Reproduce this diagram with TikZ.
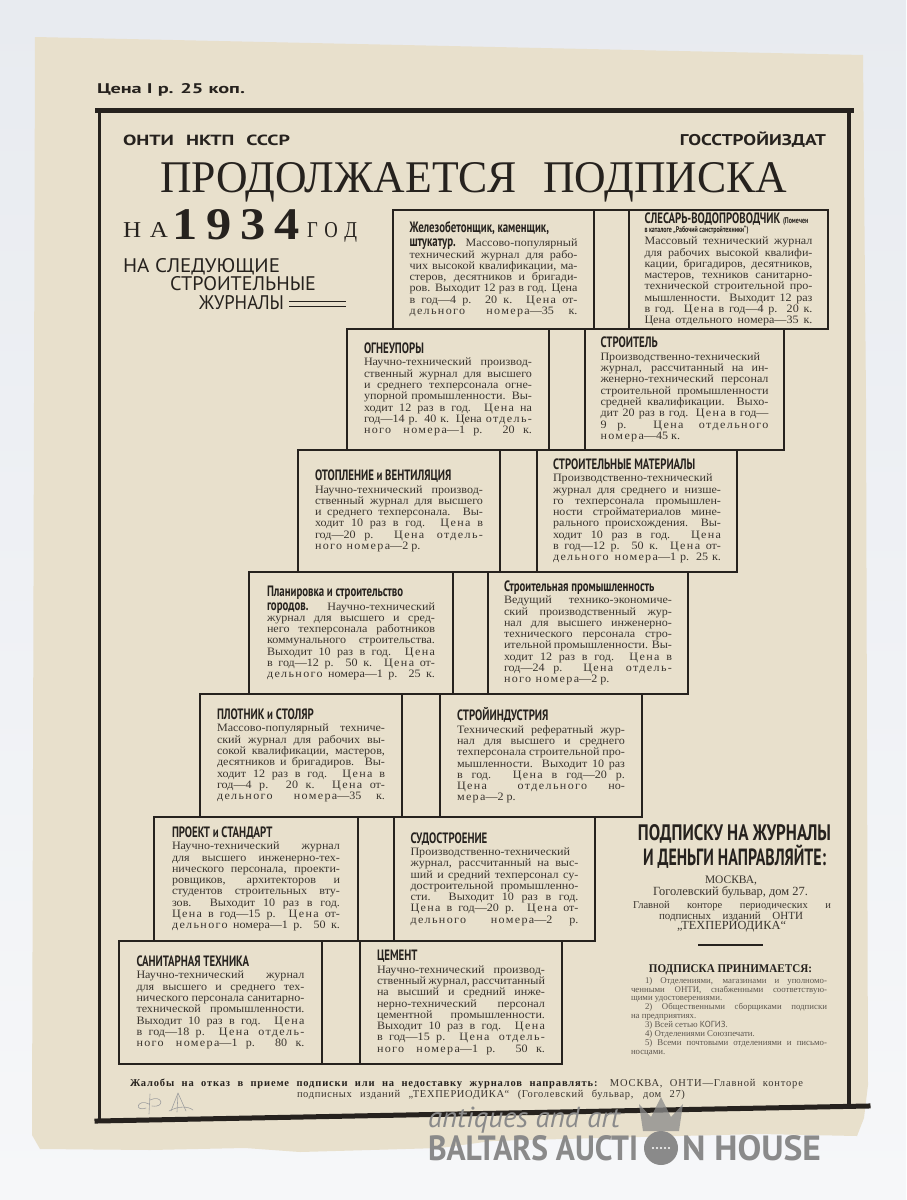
\documentclass[tikz,border=0pt]{standalone}
\usepackage{fontspec}
\usepackage{graphicx}
\setmainfont{Liberation Serif}
\newfontfamily\bodyserif[FakeStretch=1.07]{Liberation Serif}
\newfontfamily\condsans[FakeStretch=0.72]{PT Sans}
\newfontfamily\grot{PT Sans}
\usetikzlibrary{positioning}

\definecolor{bgtop}{HTML}{E8EBF0}
\definecolor{bgbot}{HTML}{F6F7F9}
\definecolor{paper}{HTML}{E8E0CC}
\definecolor{ink}{HTML}{26221E}
\definecolor{inkb}{HTML}{3A352F}
\definecolor{inkl}{HTML}{5C564E}
\definecolor{wmark}{HTML}{8A8A8A}

\newcommand\ttlfont{\condsans\bfseries\fontsize{15}{15.5}\selectfont\color{ink}}
\newcommand\smallttl{\condsans\bfseries\fontsize{8.3}{8.5}\selectfont}
\newcommand\sperr[1]{{\addfontfeature{LetterSpace=12}#1}}
\newcommand\jttl[1]{{\leavevmode\ttlfont\rightskip=0pt plus 1fil\parfillskip=0pt plus 1fil #1\par}\kern1pt}
\newcommand\jbody[1]{{\spaceskip=0pt\xspaceskip=0pt\leftskip=0pt\rightskip=0pt\parfillskip=0pt plus 1fil\hbadness=10000\hfuzz=8pt #1}}
\newcommand\jl[1]{\leavevmode\makebox[\linewidth][s]{#1}\par}
\newcommand\rl[1]{\leavevmode\makebox[\linewidth][l]{#1}\par}
\newcommand\rtxt[1]{{\tolerance=10000\hbadness=10000\leftskip=0pt\rightskip=0pt\spaceskip=0pt\xspaceskip=0pt\parfillskip=0pt plus 1fil #1\par}}

\begin{document}
\begin{tikzpicture}[x=1pt, y=-1pt,
  jbox/.style={draw=ink, line width=2.6pt, rectangle, inner sep=0pt, outer sep=0pt,
    text width=168pt, align=justify, font=\bodyserif\fontsize{11.3}{11.3}\selectfont, text=inkb},
  rowline/.style={draw=ink, line width=2.6pt},
  frame/.style={draw=ink, line cap=rect},
  disp/.style={inner sep=0pt, outer sep=0pt, text=ink},
  listtxt/.style={inner sep=0pt, outer sep=0pt, text width=196pt, align=justify,
    font=\fontsize{8.8}{8.9}\selectfont, text=inkl},
  pencil/.style={draw=gray!75, line width=0.6pt, line cap=round, line join=round}]
\useasboundingbox (0,0) rectangle (906,1200);
\shade[top color=bgtop, bottom color=bgbot] (0,0) rectangle (906,1200);

% paper sheet
\fill[paper] (35,37) -- (863,55) -- (866,400) -- (868,1085) -- (864,1118) -- (857,1136)
  -- (760,1134) -- (600,1138) -- (492,1141) -- (440,1148) -- (300,1152) -- (245,1148)
  -- (150,1150) -- (40,1149) -- (32,1135) -- cycle;

% outer frame
\draw[frame, line width=5pt] (97,110) -- (851,110);
\draw[frame, line width=3pt] (99,110) -- (99,1120);
\draw[frame, line width=4pt] (849,110) -- (849,1105);
\draw[frame, line width=5pt] (97,1121) -- (868,1106);

% heading
\node[disp, anchor=base west] (price) at (97,93) {\resizebox{148pt}{10pt}{\condsans\bfseries Цена I р. 25 коп.}};
\node[disp, anchor=base west] (onti) at (123,145) {\resizebox{167pt}{10.5pt}{\grot\bfseries ОНТИ\hspace{0.6em}НКТП\hspace{0.6em}СССР}};
\node[disp, anchor=base east] (gos) at (826,145) {\resizebox{146pt}{13.6pt}{\grot\bfseries ГОССТРОЙИЗДАТ}};
\node[disp, anchor=base west] (ptitle) at (160,192) {\resizebox{627pt}{30pt}{ПРОДОЛЖАЕТСЯ\hspace{0.6em}ПОДПИСКА}};
\node[disp, anchor=base west] (na) at (123,237) {\resizebox{45pt}{15pt}{Н\hspace{0.35em}А}};
\node[disp, anchor=base west] (year) at (172,239) {\resizebox{128pt}{30pt}{\bfseries 1\hspace{0.18em}9\hspace{0.18em}3\hspace{0.18em}4}};
\node[disp, anchor=base west] (god) at (307,237) {\resizebox{50pt}{15pt}{Г\hspace{0.35em}О\hspace{0.35em}Д}};
\node[disp, anchor=base west] (sled) at (123,272) {\resizebox{157pt}{14pt}{\condsans НА СЛЕДУЮЩИЕ}};
\node[disp, anchor=base west] (stroit) at (170,290) {\resizebox{146pt}{14pt}{\condsans СТРОИТЕЛЬНЫЕ}};
\node[disp, anchor=base west] (zhur) at (199,309) {\resizebox{85pt}{14pt}{\condsans ЖУРНАЛЫ}};
\draw[ink, line width=1.6pt] ([xshift=5pt,yshift=7.5pt]zhur.base east) -- ++(57,0);
\draw[ink, line width=1.6pt] ([xshift=5pt,yshift=2.5pt]zhur.base east) -- ++(57,0);

% row 1
\node[jbox, minimum width=201pt, minimum height=119pt] (zhel) at (493.5,269.5) {%
\jttl{Железобетонщик, каменщик,}\kern1.5pt
\jbody{\jl{{\ttlfont штукатур.} Массово-популярный}
\jl{технический журнал для рабо-}
\jl{чих высокой квалификации, ма-}
\jl{стеров, десятников и бригади-}
\jl{ров. Выходит 12 раз в год. Цена}
\jl{в год—4 р. 20 к. \sperr{Цена} от-}
\jl{\sperr{дельного номера}—35 к.}}};
\node[jbox, minimum width=199pt, minimum height=119pt] (slesar) at (728.5,269.5) {%
{\leavevmode\makebox[\linewidth][l]{\ttlfont СЛЕСАРЬ-ВОДОПРОВОДЧИК {\smallttl (Помечен}}\par}
{\leavevmode\smallttl\color{ink} в каталоге „Рабочий санстройтехники“)\par}\kern0.5pt
\jbody{\jl{Массовый технический журнал}
\jl{для рабочих высокой квалифи-}
\jl{кации, бригадиров, десятников,}
\jl{мастеров, техников санитарно-}
\jl{технической строительной про-}
\jl{мышленности. Выходит 12 раз}
\jl{в год. \sperr{Цена} в год—4 р. 20 к.}
\jl{Цена отдельного номера—35 к.}}};
\draw[rowline] (zhel.north east) -- (slesar.north west) (zhel.south east) -- (slesar.south west);

% row 2
\node[jbox, minimum width=202pt, minimum height=121pt] (ogn) at (448,389.5) {%
\jttl{ОГНЕУПОРЫ}
\jbody{\jl{Научно-технический производ-}
\jl{ственный журнал для высшего}
\jl{и среднего техперсонала огне-}
\jl{упорной промышленности. Вы-}
\jl{ходит 12 раз в год. \sperr{Цена} на}
\jl{год—14 р. 40 к. Цена \sperr{отдель-}}
\jl{\sperr{ного номера}—1 р. 20 к.}}};
\node[jbox, minimum width=199pt, minimum height=121pt] (stroitel) at (684.5,389.5) {%
\jttl{СТРОИТЕЛЬ}
\jbody{\jl{Производственно-технический}
\jl{журнал, рассчитанный на ин-}
\jl{женерно-технический персонал}
\jl{строительной промышленности}
\jl{средней квалификации. Выхо-}
\jl{дит 20 раз в год. \sperr{Цена} в год—}
\jl{9 р. \sperr{Цена отдельного}}
\rl{\sperr{номера}—45 к.}}};
\draw[rowline] (ogn.north east) -- (stroitel.north west) (ogn.south east) -- (stroitel.south west);

% row 3
\node[jbox, minimum width=202pt, minimum height=122pt] (otopl) at (399,511) {%
\jttl{ОТОПЛЕНИЕ и ВЕНТИЛЯЦИЯ}
\jbody{\jl{Научно-технический производ-}
\jl{ственный журнал для высшего}
\jl{и среднего техперсонала. Вы-}
\jl{ходит 10 раз в год. \sperr{Цена} в}
\jl{год—20 р. \sperr{Цена отдель-}}
\rl{\sperr{ного номера}—2 р.}}};
\node[jbox, minimum width=200pt, minimum height=122pt] (stmat) at (637,511) {%
\jttl{СТРОИТЕЛЬНЫЕ МАТЕРИАЛЫ}
\jbody{\jl{Производственно-технический}
\jl{журнал для среднего и низше-}
\jl{го техперсонала промышлен-}
\jl{ности стройматериалов мине-}
\jl{рального происхождения. Вы-}
\jl{ходит 10 раз в год. \sperr{Цена}}
\jl{в год—12 р. 50 к. \sperr{Цена} от-}
\jl{\sperr{дельного номера}—1 р. 25 к.}}};
\draw[rowline] (otopl.north east) -- (stmat.north west) (otopl.south east) -- (stmat.south west);

% row 4
\node[jbox, minimum width=204pt, minimum height=122pt] (plan) at (351,633) {%
\jttl{Планировка и строительство}\kern1.5pt
\jbody{\jl{{\ttlfont городов.} Научно-технический}
\jl{журнал для высшего и сред-}
\jl{него техперсонала работников}
\jl{коммунального строительства.}
\jl{Выходит 10 раз в год. \sperr{Цена}}
\jl{в год—12 р. 50 к. \sperr{Цена} от-}
\jl{\sperr{дельного} номера—1 р. 25 к.}}};
\node[jbox, minimum width=200pt, minimum height=122pt] (prom) at (588,633) {%
\jttl{Строительная промышленность}
\jbody{\jl{Ведущий технико-экономиче-}
\jl{ский производственный жур-}
\jl{нал для высшего инженерно-}
\jl{технического персонала стро-}
\jl{ительной промышленности. Вы-}
\jl{ходит 12 раз в год. \sperr{Цена} в}
\jl{год—24 р. \sperr{Цена отдель-}}
\rl{\sperr{ного номера}—2 р.}}};
\draw[rowline] (plan.north east) -- (prom.north west) (plan.south east) -- (prom.south west);

% row 5
\node[jbox, minimum width=202pt, minimum height=123pt] (plot) at (301,755.5) {%
\jttl{ПЛОТНИК и СТОЛЯР}
\jbody{\jl{Массово-популярный техниче-}
\jl{ский журнал для рабочих вы-}
\jl{сокой квалификации, мастеров,}
\jl{десятников и бригадиров. Вы-}
\jl{ходит 12 раз в год. \sperr{Цена} в}
\jl{год—4 р. 20 к. \sperr{Цена} от-}
\jl{\sperr{дельного номера}—35 к.}}};
\node[jbox, minimum width=202pt, minimum height=123pt] (indust) at (541,755.5) {%
\jttl{СТРОЙИНДУСТРИЯ}
\jbody{\jl{Технический рефератный жур-}
\jl{нал для высшего и среднего}
\jl{техперсонала строительной про-}
\jl{мышленности. Выходит 10 раз}
\jl{в год. \sperr{Цена} в год—20 р.}
\jl{\sperr{Цена отдельного} но-}
\rl{\sperr{мера}—2 р.}}};
\draw[rowline] (plot.north east) -- (indust.north west) (plot.south east) -- (indust.south west);

% row 6
\node[jbox, minimum width=204pt, minimum height=124pt] (proekt) at (256,879) {%
\jttl{ПРОЕКТ и СТАНДАРТ}
\jbody{\jl{Научно-технический журнал}
\jl{для высшего инженерно-тех-}
\jl{нического персонала, проекти-}
\jl{ровщиков, архитекторов и}
\jl{студентов строительных вту-}
\jl{зов. Выходит 10 раз в год.}
\jl{\sperr{Цена} в год—15 р. \sperr{Цена} от-}
\jl{\sperr{дельного} номера—1 р. 50 к.}}};
\node[jbox, minimum width=201pt, minimum height=124pt] (sudo) at (494.5,879) {%
\jttl{СУДОСТРОЕНИЕ}
\jbody{\jl{Производственно-технический}
\jl{журнал, рассчитанный на выс-}
\jl{ший и средний техперсонал су-}
\jl{достроительной промышленно-}
\jl{сти. Выходит 10 раз в год.}
\jl{\sperr{Цена} в год—20 р. \sperr{Цена} от-}
\jl{\sperr{дельного номера}—2 р.}}};
\draw[rowline] (proekt.north east) -- (sudo.north west) (proekt.south east) -- (sudo.south west);

% row 7
\node[jbox, minimum width=203pt, minimum height=123pt] (sanit) at (220.5,1002.5) {%
\jttl{САНИТАРНАЯ ТЕХНИКА}
\jbody{\jl{Научно-технический журнал}
\jl{для высшего и среднего тех-}
\jl{нического персонала санитарно-}
\jl{технической промышленности.}
\jl{Выходит 10 раз в год. \sperr{Цена}}
\jl{в год—18 р. \sperr{Цена отдель-}}
\jl{\sperr{ного номера}—1 р. 80 к.}}};
\node[jbox, minimum width=202pt, minimum height=123pt] (cement) at (461,1002.5) {%
\jttl{ЦЕМЕНТ}
\jbody{\jl{Научно-технический производ-}
\jl{ственный журнал, рассчитанный}
\jl{на высший и средний инже-}
\jl{нерно-технический персонал}
\jl{цементной промышленности.}
\jl{Выходит 10 раз в год. \sperr{Цена}}
\jl{в год—15 р. \sperr{Цена отдель-}}
\jl{\sperr{ного номера}—1 р. 50 к.}}};
\draw[rowline] (sanit.north east) -- (cement.north west) (sanit.south east) -- (cement.south west);

% subscription address
\node[disp, anchor=base] (send1) at (734.5,840) {\resizebox{193pt}{16pt}{\condsans\bfseries ПОДПИСКУ НА ЖУРНАЛЫ}};
\node[disp, anchor=base] (send2) at (734.5,865) {\resizebox{183pt}{20.5pt}{\condsans\bfseries И ДЕНЬГИ НАПРАВЛЯЙТЕ:}};
\node[disp, anchor=base, text=inkb] (mosk) at (731,883) {\resizebox{52pt}{!}{МОСКВА,}};
\node[disp, anchor=base, text=inkb] (gogol) at (730.5,895) {\resizebox{155pt}{!}{Гоголевский бульвар, дом 27.}};
\node[disp, anchor=base, text=inkb] (kontora) at (732,908) {\fontsize{10.5}{11}\selectfont\makebox[198pt][s]{Главной конторе периодических и}};
\node[disp, anchor=base, text=inkb] (izdan) at (731,919) {\fontsize{11}{11}\selectfont\makebox[144pt][s]{подписных изданий ОНТИ}};
\node[disp, anchor=base, text=inkb] (tehper) at (731.5,929) {\resizebox{109pt}{!}{„ТЕХПЕРИОДИКА“}};
\draw[ink, line width=1.8pt] (698,945) -- (763,945);
\node[disp, anchor=base] (prin) at (730.5,972) {\resizebox{163pt}{7.8pt}{\bfseries ПОДПИСКА ПРИНИМАЕТСЯ:}};
\node[listtxt, anchor=north west] (lst) at (631,977) {%
\rtxt{\hspace*{14pt}1) Отделениями, магазинами и уполномо-\linebreak ченными ОНТИ, снабженными соответствую-\linebreak щими удостоверениями.}
\rtxt{\hspace*{14pt}2) Общественными сборщиками подписки\linebreak на предприятиях.}
\rtxt{\hspace*{14pt}3) Всей сетью {\grot КОГИЗ}.}
\rtxt{\hspace*{14pt}4) Отделениями Союзпечати.}
\rtxt{\hspace*{14pt}5) Всеми почтовыми отделениями и письмо-\linebreak носцами.}};

% complaints
\node[disp, anchor=base west] (compl1) at (130,1086) {\fontsize{10.5}{11}\selectfont\addfontfeature{LetterSpace=8}\makebox[673pt][s]{\bfseries Жалобы на отказ в приеме подписки или на недоставку журналов направлять: \mdseries\color{inkb}МОСКВА, ОНТИ—Главной конторе}};
\node[disp, anchor=base west, text=inkb] (compl2) at (297,1097) {\fontsize{10.5}{11}\selectfont\addfontfeature{LetterSpace=6}\makebox[388pt][s]{подписных изданий „ТЕХПЕРИОДИКА“ (Гоголевский бульвар, дом 27)}};

% pencil mark
\draw[pencil] (150,1094) -- (149,1114);
\draw[pencil] (149,1104) .. controls (138,1098) and (133,1112) .. (146,1108);
\draw[pencil] (150,1100) .. controls (162,1094) and (166,1108) .. (152,1106);
\draw[pencil] (171,1111) -- (178,1093) -- (186,1111);
\draw[pencil] (178,1094) -- (177,1112);
\draw[pencil] (169,1111) .. controls (178,1106) and (188,1106) .. (193,1110);

% watermark
\node[disp, anchor=base west, text=wmark] (wm1) at (428,1127) {\resizebox{192pt}{!}{\grot\itshape antiques and art}};
\node[disp, anchor=base west, text=wmark] (wm2) at (428,1160) {\resizebox{210pt}{25pt}{\condsans\bfseries BALTARS AUCTI}};
\node[disp, anchor=base west, text=wmark] (wm3) at (682,1160) {\resizebox{139pt}{25pt}{\condsans\bfseries N HOUSE}};
\fill[wmark, opacity=0.75] (643,1131) -- (639,1104) -- (651,1117) -- (661,1097) -- (671,1117) -- (683,1104) -- (679,1131) -- cycle;
\fill[wmark] (661,1148) circle (17);
\foreach \dx in {-8,-4,0,4,8}
  \fill[white] (661+\dx,1148) circle (1.2);
\end{tikzpicture}
\end{document}
